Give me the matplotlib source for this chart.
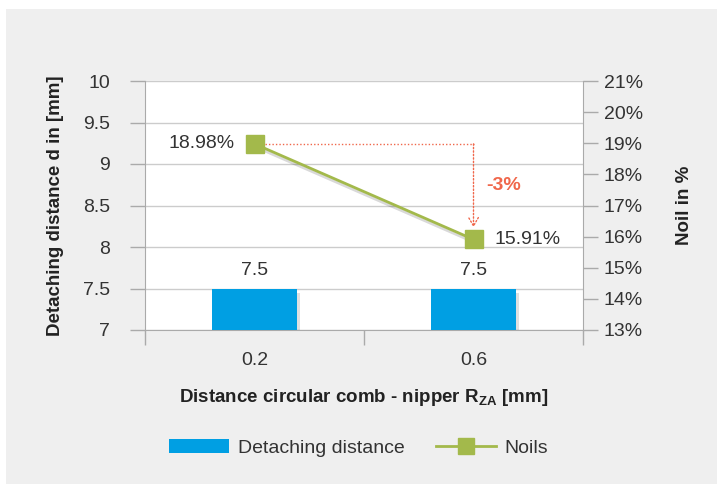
import matplotlib
matplotlib.use("Agg")
import matplotlib.pyplot as plt
import matplotlib.patheffects as pe
from matplotlib.patches import Rectangle
from matplotlib.lines import Line2D

categories = ["0.2", "0.6"]
detaching = [7.5, 7.5]
noils = [18.98, 15.91]
noil_labels = ["18.98%", "15.91%"]
change_label = "-3%"

BLUE = "#009fe3"
GREEN = "#a3b94b"
RED = "#f0674b"
GRID = "#cccccc"
TXT = "#333333"

plt.rcParams['font.family'] = ['Liberation Sans', 'DejaVu Sans']

fig = plt.figure(figsize=(7.17, 4.84), dpi=100)
fig.patch.set_facecolor("white")
fig.add_artist(Rectangle((6/717, 0), 1, 1 - 9/484, transform=fig.transFigure,
                         facecolor="#efefef", edgecolor="none", zorder=-10))

ax = fig.add_axes([145/717, 1 - 330/484, (583 - 145)/717, (330 - 81)/484])
ax.set_facecolor("white")
x = list(range(len(categories)))
shadow = [pe.SimplePatchShadow(offset=(2, -3), shadow_rgbFace="black", alpha=0.12), pe.Normal()]
bars = ax.bar(x, [d - 7 for d in detaching], bottom=7, width=0.39, color=BLUE, zorder=3)
for b in bars:
    b.set_path_effects(shadow)
for xi, d in zip(x, detaching):
    ax.text(xi, d + 0.22, f"{d:g}", ha="center", va="center", fontsize=14, color=TXT)

ax.set_ylim(7, 10)
ax.set_yticks([7, 7.5, 8, 8.5, 9, 9.5, 10])
ax.set_yticklabels(["7", "7.5", "8", "8.5", "9", "9.5", "10"])
ax.set_xlim(-0.5, 1.5)
ax.set_xticks([-0.5, 0.5, 1.5])
ax.set_xticklabels([])
ax.set_xticks(x, minor=True)
ax.set_xticklabels(categories, minor=True)
ax.tick_params(axis="x", which="minor", length=0, pad=16, labelsize=14, labelcolor=TXT)
ax.tick_params(axis="x", which="major", length=11, color="#aaaaaa", width=1)
ax.tick_params(axis="y", length=11, color="#aaaaaa", width=1, labelsize=14, labelcolor=TXT, pad=14)
ax.grid(axis="y", color=GRID, linewidth=1, zorder=0)
ax.set_axisbelow(True)
for s in ["top", "right"]:
    ax.spines[s].set_visible(False)
ax.spines["left"].set_color("#aaaaaa")
ax.spines["bottom"].set_color("#aaaaaa")

ax.set_ylabel("Detaching distance d in [mm]", fontsize=13.5, fontweight="bold", color="#222222", labelpad=14)
ax.set_xlabel(r"Distance circular comb - nipper R$_{\mathregular{ZA}}$ [mm]", fontsize=13.5,
              fontweight="bold", color="#222222", labelpad=13)

ax2 = ax.twinx()
ax2.set_ylim(13, 21)
ax2.set_yticks(range(13, 22))
ax2.set_yticklabels([f"{v}%" for v in range(13, 22)])
ax2.tick_params(axis="y", length=11, color="#aaaaaa", width=1, labelsize=14, labelcolor=TXT, pad=4)
for s in ["top", "left", "bottom"]:
    ax2.spines[s].set_visible(False)
ax2.spines["right"].set_color("#aaaaaa")
ax2.set_ylabel("Noil in %", fontsize=13.5, fontweight="bold", color="#222222", labelpad=24)

lshadow = [pe.SimpleLineShadow(offset=(1.5, -2.5), shadow_color="black", alpha=0.15), pe.Normal()]
ax2.plot(x, noils, color=GREEN, linewidth=2, zorder=4, path_effects=lshadow)
ax2.plot(x, noils, linestyle="none", marker="s", markersize=13, color=GREEN, zorder=5)

ax2.text(x[0] - 0.09, noils[0], noil_labels[0], ha="right", va="center", fontsize=14, color=TXT)
ax2.text(x[1] + 0.095, noils[1], noil_labels[1], ha="left", va="center", fontsize=14, color=TXT)

# red dotted annotation
ax2.plot([x[0] + 0.05, x[1]], [noils[0], noils[0]], linestyle=(0, (1, 1.5)), color=RED, linewidth=1, zorder=3)
ax2.annotate("", xy=(x[1], 16.3), xytext=(x[1], noils[0]),
             arrowprops=dict(arrowstyle="->,head_length=0.6,head_width=0.35", color=RED,
                             linestyle=(0, (1, 1.5)), linewidth=1, shrinkA=0, shrinkB=0), zorder=3)
ax2.text(x[1] + 0.06, 17.65, change_label, ha="left", va="center", fontsize=14,
         fontweight="bold", color=RED)

handles = [Rectangle((0, 0), 1, 1, facecolor=BLUE),
           Line2D([0], [0], color=GREEN, linewidth=2, marker="s", markersize=11)]
fig.legend(handles, ["Detaching distance", "Noils"], loc="center", bbox_to_anchor=(0.5, 1 - 448/484),
           ncol=2, frameon=False, fontsize=14, handlelength=3.1, handleheight=0.75, columnspacing=1.6,
           handletextpad=0.45, labelcolor=TXT)

fig.savefig("out.png", dpi=100)
